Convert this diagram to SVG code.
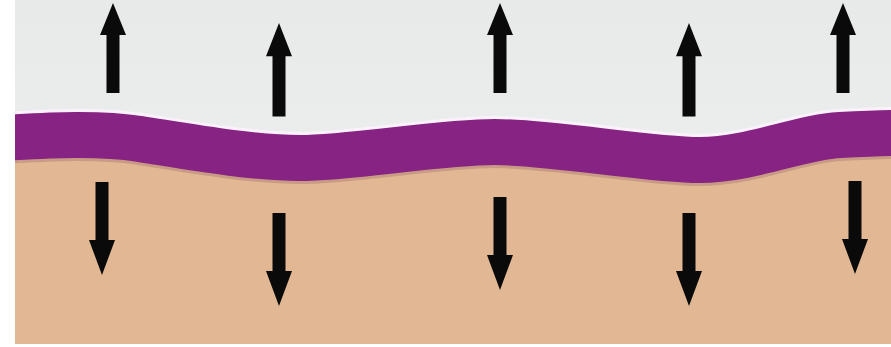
<svg xmlns="http://www.w3.org/2000/svg" width="891" height="347" viewBox="0 0 891 347">
  <style>
    .arrow { fill: #0a0a0a; }
  </style>
  <defs>
    <clipPath id="frame"><rect x="15" y="0" width="876" height="344"/></clipPath>
    <linearGradient id="sky" x1="0" y1="0" x2="0" y2="1">
      <stop offset="0" stop-color="#e8eaea"/>
      <stop offset="1" stop-color="#f0f1f0"/>
    </linearGradient>
    <path id="wave" d="M0,138 C40,136 95,132 140,139 S250,158 300,158 S440,142 495,142 S650,160 700,160 S800,137 840,135 S880,133 900,133"/>
    <path id="up" d="M0,0 L13,32 L6.5,32 L6.5,90 L-6.5,90 L-6.5,32 L-13,32 Z"/>
    <path id="down" d="M0,0 L-13,-35 L-6.5,-35 L-6.5,-93 L6.5,-93 L6.5,-35 L13,-35 Z"/>
  </defs>
  <rect width="891" height="347" fill="#ffffff"/>
  <g id="background" clip-path="url(#frame)">
    <rect x="15" y="0" width="876" height="344" fill="url(#sky)"/>
    <path d="M0,138 C40,136 95,132 140,139 S250,158 300,158 S440,142 495,142 S650,160 700,160 S800,137 840,135 S880,133 900,133 L900,344 L0,344 Z" fill="#e1b893"/>
  </g>
  <g id="membrane" clip-path="url(#frame)">
    <use href="#wave" transform="translate(0,2)" fill="none" stroke="#6a2a4a" stroke-opacity="0.2" stroke-width="48"/>
    <use href="#wave" transform="translate(0,-2)" fill="none" stroke="#fbf2fb" stroke-width="48"/>
    <use href="#wave" fill="none" stroke="#862383" stroke-width="46"/>
  </g>
  <g id="arrows-up">
    <g id="up1"><use href="#up" class="arrow" x="113" y="3"/></g>
    <g id="up2"><use href="#up" class="arrow" transform="translate(279,23) scale(1,1.04)"/></g>
    <g id="up3"><use href="#up" class="arrow" x="500" y="3"/></g>
    <g id="up4"><use href="#up" class="arrow" transform="translate(689,23) scale(1,1.04)"/></g>
    <g id="up5"><use href="#up" class="arrow" x="843" y="3"/></g>
  </g>
  <g id="arrows-down">
    <g id="down1"><use href="#down" class="arrow" x="102" y="275"/></g>
    <g id="down2"><use href="#down" class="arrow" x="279" y="306"/></g>
    <g id="down3"><use href="#down" class="arrow" x="500" y="290"/></g>
    <g id="down4"><use href="#down" class="arrow" x="689" y="306"/></g>
    <g id="down5"><use href="#down" class="arrow" x="855" y="274"/></g>
  </g>
</svg>
